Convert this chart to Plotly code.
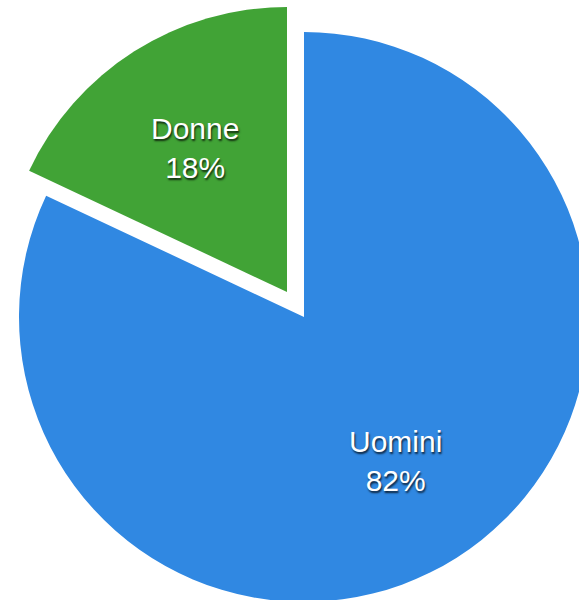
import math
import plotly.graph_objects as go

labels = ["Uomini", "Donne"]
values = [82, 18]
colors = ["#3088e2", "#41a336"]

PW, PH = 600, 610   # paper size in px
R = 285             # pie radius in px
blue_c = (304, 317)
green_c = (287, 292)
LABEL_FRAC = 0.6

def domain(c):
    return dict(x=[(c[0] - R) / PW, (c[0] + R) / PW],
                y=[1 - (c[1] + R) / PH, 1 - (c[1] - R) / PH])

total = sum(values)
fig = go.Figure()
fig.add_trace(go.Pie(
    labels=[labels[0], " "], values=[values[0], values[1]],
    marker=dict(colors=[colors[0], "rgba(0,0,0,0)"], line=dict(width=0)),
    textinfo="none", sort=False, direction="clockwise", rotation=0,
    domain=domain(blue_c), hoverinfo="skip", showlegend=False,
))
fig.add_trace(go.Pie(
    labels=["  ", labels[1]], values=[values[0], values[1]],
    marker=dict(colors=["rgba(0,0,0,0)", colors[1]], line=dict(width=0)),
    textinfo="none", sort=False, direction="clockwise", rotation=0,
    domain=domain(green_c), hoverinfo="skip", showlegend=False,
))

font = dict(family="Liberation Sans, Arial, sans-serif", size=30, color="white",
            shadow="1px 2px 2px rgba(0,0,0,0.75)")
cum = 0
for lab, val, c in zip(labels, values, [blue_c, green_c]):
    mid = (cum + val / 2) / total * 2 * math.pi
    cum += val
    px = c[0] + LABEL_FRAC * R * math.sin(mid)
    py = c[1] - LABEL_FRAC * R * math.cos(mid)
    fig.add_annotation(x=px / PW, y=1 - py / PH, xref="paper", yref="paper",
                       text=f"{lab}<br>{round(val / total * 100)}%",
                       showarrow=False, font=font, xanchor="center", yanchor="middle")

fig.update_layout(width=PW, height=PH, margin=dict(l=0, r=0, t=0, b=0),
                  paper_bgcolor="white", plot_bgcolor="white")
fig.write_html("out.html", config={"displayModeBar": False},
               post_script="document.body.style.margin='0';document.body.style.overflow='hidden';")
